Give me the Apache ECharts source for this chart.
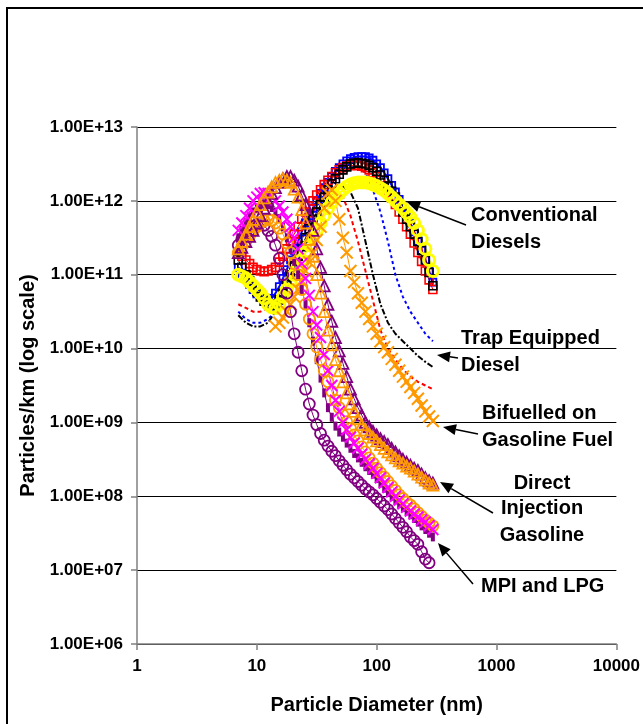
<!DOCTYPE html>
<html><head><meta charset="utf-8">
<script src="https://cdn.jsdelivr.net/npm/echarts@6/dist/echarts.min.js"></script>
<style>html,body{margin:0;padding:0;background:#fff}#c{width:643px;height:724px}</style>
</head><body><div id="c"></div>
<script>
// Particle diameter bins (nm), marker series
const diameters = [7.0, 7.5, 8.1, 8.7, 9.3, 10.0, 10.7, 11.5, 12.4, 13.3, 14.3, 15.4, 16.5, 17.8, 19.1, 20.5, 22.1, 23.7, 25.5, 27.4, 29.4, 31.6, 34.0, 36.5, 39.2, 42.2, 45.3, 48.7, 52.3, 56.2, 60.4, 64.9, 69.8, 75.0, 80.6, 86.6, 93.1, 100.0, 107.5, 115.5, 124.1, 133.4, 143.3, 154.0, 165.5, 177.8, 191.1, 205.4, 220.7, 237.1, 254.8, 273.8, 294.3];
// Coarser bins used by the dotted (trap) curves
const trapDiameters = [7.0, 8.1, 9.3, 10.7, 12.4, 14.3, 16.5, 19.1, 22.1, 25.5, 29.4, 34.0, 39.2, 45.3, 52.3, 60.4, 69.8, 80.6, 93.1, 107.5, 124.1, 143.3, 165.5, 191.1, 220.7, 254.8, 294.3];

// Values are log10(particles/km)
// Conventional diesels
const convBlueLog   = [11.1, 11.02, 10.95, 10.87, 10.8, 10.74, 10.7, 10.66, 10.65, 10.68, 10.75, 10.84, 10.95, 11.07, 11.2, 11.33, 11.45, 11.58, 11.7, 11.8, 11.9, 12.0, 12.1, 12.18, 12.25, 12.33, 12.4, 12.45, 12.5, 12.54, 12.57, 12.59, 12.6, 12.6, 12.6, 12.58, 12.55, 12.5, 12.45, 12.38, 12.3, 12.21, 12.12, 12.02, 11.92, 11.81, 11.7, 11.58, 11.45, 11.33, 11.2, 11.05, 10.9];
const convRedLog    = [11.3, 11.25, 11.2, 11.15, 11.1, 11.07, 11.05, 11.04, 11.05, 11.07, 11.1, 11.17, 11.25, 11.35, 11.45, 11.55, 11.65, 11.75, 11.85, 11.93, 12.0, 12.08, 12.15, 12.22, 12.28, 12.33, 12.38, 12.42, 12.45, 12.47, 12.48, 12.48, 12.48, 12.47, 12.45, 12.42, 12.38, 12.33, 12.28, 12.2, 12.12, 12.04, 11.95, 11.85, 11.75, 11.65, 11.55, 11.43, 11.3, 11.18, 11.05, 10.93, 10.8];
const convBlackLog  = [11.2, 11.1, 11.0, 10.92, 10.85, 10.77, 10.7, 10.64, 10.6, 10.58, 10.6, 10.66, 10.75, 10.87, 11.0, 11.12, 11.25, 11.38, 11.5, 11.62, 11.75, 11.85, 11.95, 12.05, 12.15, 12.23, 12.3, 12.36, 12.42, 12.46, 12.5, 12.51, 12.52, 12.51, 12.5, 12.48, 12.45, 12.4, 12.35, 12.28, 12.2, 12.13, 12.05, 11.95, 11.85, 11.75, 11.65, 11.55, 11.45, 11.33, 11.2, 11.03, 10.85];
const convYellowLog = [11.0, 10.98, 10.95, 10.9, 10.85, 10.8, 10.75, 10.68, 10.6, 10.56, 10.55, 10.6, 10.7, 10.8, 10.9, 11.0, 11.1, 11.2, 11.3, 11.4, 11.5, 11.6, 11.7, 11.8, 11.9, 11.98, 12.05, 12.1, 12.15, 12.19, 12.22, 12.24, 12.25, 12.25, 12.25, 12.24, 12.22, 12.2, 12.17, 12.14, 12.1, 12.05, 12.0, 11.95, 11.9, 11.84, 11.78, 11.7, 11.6, 11.48, 11.35, 11.2, 11.05];

// Trap equipped diesels (on trapDiameters)
const trapBlueLog  = [10.5, 10.4, 10.35, 10.35, 10.4, 10.5, 10.7, 10.95, 11.2, 11.45, 11.7, 11.9, 12.1, 12.25, 12.37, 12.45, 12.45, 12.38, 12.15, 11.85, 11.45, 11.0, 10.7, 10.5, 10.35, 10.2, 10.1];
const trapBlackLog = [10.45, 10.35, 10.3, 10.3, 10.35, 10.5, 10.7, 10.95, 11.2, 11.45, 11.7, 11.9, 12.05, 12.15, 12.2, 12.12, 11.9, 11.45, 11.0, 10.6, 10.35, 10.2, 10.1, 10.0, 9.9, 9.82, 9.75];
const trapRedLog   = [10.6, 10.55, 10.5, 10.5, 10.55, 10.65, 10.85, 11.1, 11.35, 11.6, 11.85, 12.05, 12.15, 12.15, 12.05, 11.8, 11.45, 11.05, 10.65, 10.25, 10.0, 9.85, 9.72, 9.62, 9.55, 9.5, 9.45];

// Bifuelled on gasoline fuel
const bifuelOrangeLog = [null, null, null, null, null, null, null, null, null, null, 10.3, 10.35, 10.42, 10.5, 10.6, 10.7, 10.8, 10.92, 11.05, 11.17, 11.3, 11.47, 11.65, 11.9, 12.1, 12.15, 12.0, 11.75, 11.5, 11.3, 11.05, 10.9, 10.75, 10.62, 10.5, 10.4, 10.3, 10.2, 10.1, 10.02, 9.95, 9.86, 9.78, 9.7, 9.62, 9.55, 9.48, 9.4, 9.32, 9.23, 9.15, 9.08, 9.02];

// Direct injection gasoline
const diPurpleLog = [11.3, 11.37, 11.45, 11.52, 11.6, 11.7, 11.8, 11.9, 12.0, 12.1, 12.18, 12.25, 12.3, 12.33, 12.33, 12.28, 12.2, 12.08, 11.95, 11.8, 11.6, 11.35, 11.1, 10.85, 10.6, 10.37, 10.15, 9.97, 9.8, 9.62, 9.45, 9.32, 9.2, 9.1, 9.0, 8.94, 8.88, 8.83, 8.78, 8.74, 8.7, 8.65, 8.6, 8.55, 8.5, 8.46, 8.42, 8.38, 8.35, 8.3, 8.25, 8.21, 8.18];
const diOrangeLog = [11.35, 11.45, 11.55, 11.65, 11.75, 11.85, 11.95, 12.04, 12.12, 12.19, 12.25, 12.28, 12.3, 12.28, 12.25, 12.16, 12.05, 11.88, 11.7, 11.48, 11.25, 11.0, 10.75, 10.5, 10.25, 10.05, 9.85, 9.7, 9.55, 9.4, 9.25, 9.15, 9.05, 8.97, 8.9, 8.85, 8.8, 8.75, 8.7, 8.65, 8.6, 8.56, 8.52, 8.48, 8.45, 8.41, 8.38, 8.34, 8.3, 8.26, 8.22, 8.18, 8.15];

// MPI and LPG
const mpiPurpleCircleLog = [11.4, 11.48, 11.55, 11.6, 11.65, 11.68, 11.7, 11.67, 11.6, 11.52, 11.4, 11.22, 11.0, 10.75, 10.5, 10.2, 9.95, 9.7, 9.45, 9.25, 9.1, 8.97, 8.85, 8.76, 8.68, 8.61, 8.55, 8.48, 8.42, 8.36, 8.3, 8.25, 8.2, 8.15, 8.1, 8.06, 8.02, 7.97, 7.92, 7.87, 7.82, 7.76, 7.7, 7.64, 7.58, 7.52, 7.45, 7.4, 7.35, 7.25, 7.15, 7.1, null];
const mpiMagentaLog      = [11.6, 11.7, 11.8, 11.9, 12.0, 12.05, 12.1, 12.11, 12.1, 12.06, 12.0, 11.93, 11.85, 11.75, 11.65, 11.5, 11.35, 11.15, 10.95, 10.72, 10.5, 10.32, 10.15, 9.92, 9.7, 9.5, 9.3, 9.15, 9.0, 8.9, 8.8, 8.72, 8.65, 8.57, 8.5, 8.44, 8.38, 8.31, 8.25, 8.18, 8.12, 8.06, 8.0, 7.95, 7.9, 7.85, 7.8, 7.76, 7.72, 7.68, 7.65, 7.6, 7.55];
const mpiPurpleDashLog   = [11.5, 11.6, 11.7, 11.78, 11.85, 11.9, 11.95, 11.96, 11.95, 11.91, 11.85, 11.76, 11.65, 11.5, 11.35, 11.18, 11.0, 10.8, 10.6, 10.35, 10.1, 9.85, 9.6, 9.4, 9.2, 9.07, 8.95, 8.87, 8.8, 8.72, 8.65, 8.58, 8.52, 8.46, 8.4, 8.35, 8.3, 8.24, 8.18, 8.11, 8.05, 8.0, 7.95, 7.9, 7.85, 7.8, 7.75, 7.7, 7.65, 7.6, 7.55, 7.5, 7.45];
const mpiOrangeCircleLog = [11.3, 11.38, 11.45, 11.53, 11.6, 11.65, 11.7, 11.73, 11.75, 11.74, 11.7, 11.63, 11.55, 11.43, 11.3, 11.15, 11.0, 10.8, 10.6, 10.4, 10.2, 10.02, 9.85, 9.7, 9.55, 9.42, 9.3, 9.2, 9.1, 9.01, 8.92, 8.83, 8.75, 8.67, 8.6, 8.52, 8.45, 8.38, 8.32, 8.26, 8.2, 8.14, 8.08, 8.02, 7.97, 7.92, 7.88, 7.83, 7.78, 7.73, 7.68, 7.64, 7.6];

// Tick labels
const xTickLabels = ['1', '10', '100', '1000', '10000'];
const yTickLabels = ['1.00E+06', '1.00E+07', '1.00E+08', '1.00E+09', '1.00E+10', '1.00E+11', '1.00E+12', '1.00E+13'];

// Annotation texts
const annotations = [
  { lines: ['Conventional', 'Diesels'] },
  { lines: ['Trap Equipped', 'Diesel'] },
  { lines: ['Bifuelled on', 'Gasoline Fuel'] },
  { lines: ['Direct', 'Injection', 'Gasoline'] },
  { lines: ['MPI and LPG'] }
];
// Annotation layout (pixels)
const annotationLayout = [
  { x: 471, y: [215, 242], align: 'left',   from: [466, 225], to: [407, 202] },
  { x: 461, y: [338, 365], align: 'left',   from: [458, 358], to: [437, 355] },
  { x: 482, y: [413, 440], align: 'left',   from: [478, 434], to: [443, 427] },
  { x: 542, y: [483, 508, 535], align: 'center', from: [493, 513], to: [440, 482] },
  { x: 481, y: [586], align: 'left',        from: [473, 584], to: [438, 543] }
];

const FONT = '"Liberation Sans", Arial, sans-serif';
const X_PATH = 'path://M0,0L10,10M10,0L0,10';

function pairs(xs, logs) {
  const out = [];
  logs.forEach((v, i) => { if (v != null) out.push([xs[i], Math.pow(10, v)]); });
  return out;
}
function markerSeries(name, logs, color, symbol, size, bw, lw) {
  const filled = symbol === 'rectFill';
  return {
    name, type: 'line', data: pairs(diameters, logs),
    symbol: filled ? 'rect' : symbol, symbolSize: size, showSymbol: true,
    lineStyle: { color, width: lw == null ? 1 : lw },
    itemStyle: filled ? { color, borderWidth: 0 } : { color: 'rgba(0,0,0,0)', borderColor: color, borderWidth: bw },
    emphasis: { disabled: true }, silent: true
  };
}
function dottedSeries(name, logs, color, dash, w) {
  return {
    name, type: 'line', data: pairs(trapDiameters, logs), showSymbol: false, symbol: 'none',
    lineStyle: { color, width: w, type: dash },
    emphasis: { disabled: true }, silent: true
  };
}

const series = [
  markerSeries('convBlue', convBlueLog, '#0000FF', 'rect', 7, 1.8, 2),
  markerSeries('convRed', convRedLog, '#FF0000', 'rect', 8, 1.6),
  markerSeries('convBlack', convBlackLog, '#000000', 'rect', 8, 1.6),
  markerSeries('convYellow', convYellowLog, '#FFFF00', 'circle', 11, 3, 2),
  dottedSeries('trapBlue', trapBlueLog, '#0000FF', [3, 3], 2),
  dottedSeries('trapBlack', trapBlackLog, '#000000', [6, 2, 2, 2], 2),
  dottedSeries('trapRed', trapRedLog, '#FF0000', [4, 3], 2),
  markerSeries('bifuelOrange', bifuelOrangeLog, '#FF9900', X_PATH, 12, 2),
  markerSeries('mpiPurpleCircle', mpiPurpleCircleLog, '#800080', 'circle', 11, 1.8),
  markerSeries('mpiPurpleDash', mpiPurpleDashLog, '#800080', 'rectFill', [4, 9]),
  markerSeries('mpiOrangeCircle', mpiOrangeCircleLog, '#FF9900', 'circle', 11, 1.8),
  markerSeries('mpiMagenta', mpiMagentaLog, '#FF00FF', X_PATH, 11, 2),
  markerSeries('diPurple', diPurpleLog, '#800080', 'triangle', 11, 1.8),
  markerSeries('diOrange', diOrangeLog, '#FF9900', 'triangle', 11, 1.8)
];

// Frame and annotation graphics
const graphics = [
  { type: 'rect', shape: { x: 7, y: 8, width: 720, height: 800 }, style: { fill: 'none', stroke: '#000', lineWidth: 2 }, silent: true }
];
annotations.forEach((a, k) => {
  const L = annotationLayout[k];
  a.lines.forEach((t, j) => {
    graphics.push({ type: 'text', x: L.x, y: L.y[j], style: { text: t, font: 'bold 20px ' + FONT, fill: '#000', align: L.align, verticalAlign: 'middle' }, silent: true });
  });
  const [fx, fy] = L.from, [tx, ty] = L.to;
  const dx = tx - fx, dy = ty - fy, len = Math.hypot(dx, dy);
  const ux = dx / len, uy = dy / len, nx = -uy, ny = ux;
  const hl = 13, hw = 5.5;
  const bx = tx - ux * hl, by = ty - uy * hl;
  graphics.push({ type: 'line', shape: { x1: fx, y1: fy, x2: bx, y2: by }, style: { stroke: '#000', lineWidth: 1.5 }, silent: true });
  graphics.push({ type: 'polygon', shape: { points: [[tx, ty], [bx + nx * hw, by + ny * hw], [bx - nx * hw, by - ny * hw]] }, style: { fill: '#000' }, silent: true });
});

const chart = echarts.init(document.getElementById('c'), null, { renderer: 'canvas' });
chart.setOption({
  animation: false,
  backgroundColor: '#fff',
  grid: { left: 137, right: 25, top: 127, bottom: 80, containLabel: false },
  xAxis: {
    type: 'log', logBase: 10, min: 1, max: 10000, splitNumber: 4,
    name: 'Particle Diameter (nm)', nameLocation: 'middle', nameGap: 51,
    nameTextStyle: { fontFamily: FONT, fontWeight: 'bold', fontSize: 20, color: '#000' },
    axisLine: { show: true, lineStyle: { color: '#808080', width: 1.5 } },
    axisTick: { show: true, length: 6, lineStyle: { color: '#808080', width: 1.5 } },
    minorTick: { show: false },
    splitLine: { show: false },
    axisLabel: { margin: 14, fontFamily: FONT, fontWeight: 'bold', fontSize: 17, color: '#000',
      formatter: v => xTickLabels[Math.round(Math.log10(v))] }
  },
  yAxis: {
    type: 'log', logBase: 10, min: 1e6, max: 1e13, splitNumber: 7,
    name: 'Particles/km (log scale)', nameLocation: 'middle', nameGap: 99, nameRotate: 90,
    nameTextStyle: { fontFamily: FONT, fontWeight: 'bold', fontSize: 20, color: '#000' },
    axisLine: { show: true, lineStyle: { color: '#808080', width: 1.5 } },
    axisTick: { show: true, length: 6, lineStyle: { color: '#808080', width: 1.5 } },
    splitLine: { show: true, lineStyle: { color: '#000', width: 1 } },
    axisLabel: { margin: 14, fontFamily: FONT, fontWeight: 'bold', fontSize: 17, color: '#000',
      formatter: v => yTickLabels[Math.round(Math.log10(v)) - 6] }
  },
  series: series,
  graphic: graphics
});
</script>
</body></html>
